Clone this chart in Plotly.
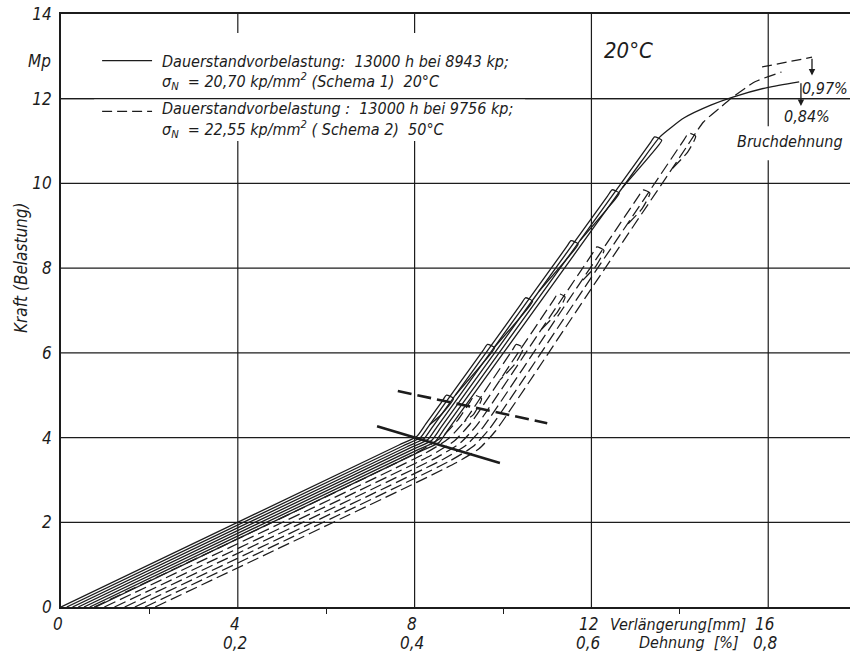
import plotly.graph_objects as go

# ---------------- data (elongation in mm, load in Mp) ----------------
# Schema 1 (solid): each cycle = loading to a tip, then start of unloading
s1_x = [0.0, 7.647, 8.047, 8.254, 8.618, 8.721, 8.881, 8.61, 8.339]
s1_y = [0.0, 3.824, 4.024, 4.324, 4.85, 5.0, 4.92, 4.55, 4.301]
s2_x = [0.13, 7.732, 8.132, 8.339, 8.959, 9.546, 9.649, 9.809, 9.539, 8.921]
s2_y = [0.0, 3.801, 4.001, 4.301, 5.2, 6.05, 6.2, 6.12, 5.75, 5.0]
s3_x = [0.26, 7.816, 8.216, 8.423, 9.473, 10.405, 10.508, 10.668, 10.398, 9.78]
s3_y = [0.0, 3.778, 3.978, 4.278, 5.8, 7.15, 7.3, 7.22, 6.85, 6.1]
s4_x = [0.39, 7.900, 8.300, 8.507, 9.987, 11.436, 11.54, 11.70, 11.429, 10.812]
s4_y = [0.0, 3.755, 3.955, 4.255, 6.4, 8.5, 8.65, 8.57, 8.2, 7.45]
s5_x = [0.52, 7.984, 8.384, 8.591, 10.501, 12.364, 12.468, 12.628, 12.357, 11.74]
s5_y = [0.0, 3.732, 3.932, 4.232, 7.0, 9.7, 9.85, 9.77, 9.4, 8.65]
s6_x = [0.65, 8.068, 8.468, 8.675, 11.015, 13.327, 13.43, 13.59, 13.32, 12.702]
s6_y = [0.0, 3.709, 3.909, 4.209, 7.6, 10.95, 11.1, 11.02, 10.65, 9.9]
s7_x = [0.78, 8.152, 8.552, 8.759, 11.115, 13.116, 13.55, 14.1, 14.7, 15.2, 16.0, 16.7]
s7_y = [0.0, 3.686, 3.886, 4.186, 7.6, 10.5, 11.1, 11.55, 11.85, 12.04, 12.27, 12.4]

# Schema 2 (dashed)
d1_x = [0.75, 8.091, 8.614, 8.981, 9.258, 9.355, 9.515, 9.335, 9.122]
d1_y = [0.0, 3.67, 4.008, 4.42, 4.85, 5.0, 4.92, 4.55, 4.376]
d2_x = [0.98, 8.232, 8.755, 9.122, 9.719, 10.202, 10.299, 10.459, 10.279, 9.921]
d2_y = [0.0, 3.626, 3.964, 4.376, 5.3, 6.05, 6.2, 6.12, 5.75, 5.35]
d3_x = [1.21, 8.374, 8.897, 9.264, 10.276, 11.146, 11.243, 11.403, 11.223, 10.865]
d3_y = [0.0, 3.582, 3.92, 4.332, 5.9, 7.25, 7.4, 7.32, 6.95, 6.55]
d4_x = [1.44, 8.515, 9.038, 9.405, 10.833, 12.026, 12.123, 12.283, 12.102, 11.744]
d4_y = [0.0, 3.538, 3.876, 4.288, 6.5, 8.35, 8.5, 8.42, 8.05, 7.65]
d5_x = [1.67, 8.657, 9.18, 9.547, 11.325, 13.067, 13.163, 13.323, 13.143, 12.785]
d5_y = [0.0, 3.493, 3.831, 4.243, 7.0, 9.7, 9.85, 9.77, 9.4, 9.0]
d6_x = [1.90, 8.798, 9.321, 9.688, 11.818, 14.101, 14.198, 14.358, 14.177, 13.819]
d6_y = [0.0, 3.449, 3.787, 4.199, 7.5, 11.04, 11.19, 11.11, 10.74, 10.34]
d7_x = [2.13, 8.94, 9.463, 9.83, 11.988, 13.987, 14.535, 14.9, 15.2, 15.7, 16.3]
d7_y = [0.0, 3.405, 3.743, 4.155, 7.5, 10.6, 11.45, 11.78, 12.04, 12.4, 12.63]

# marking lines drawn across the knee of the curves
mark_solid_x = [7.15, 9.93]
mark_solid_y = [4.27, 3.40]
mark_dash_x = [7.62, 11.0]
mark_dash_y = [5.10, 4.34]

# ticks
y_ticks = [0, 2, 4, 6, 8, 10, 12, 14]
x_ticks = [0, 4, 8, 12, 16]
x_ticks_mm = ["0", "4", "8", "12", "16"]
x_ticks_pct = ["", "0,2", "0,4", "0,6", "0,8"]
x_minor = [2, 6, 10, 14]

INK = "#1c1c1c"
FONT = "DejaVu Sans Condensed, DejaVu Sans, sans-serif"

solid_curves = [(s1_x, s1_y), (s2_x, s2_y), (s3_x, s3_y), (s4_x, s4_y),
                (s5_x, s5_y), (s6_x, s6_y), (s7_x, s7_y)]
dashed_curves = [(d1_x, d1_y), (d2_x, d2_y), (d3_x, d3_y), (d4_x, d4_y),
                 (d5_x, d5_y), (d6_x, d6_y), (d7_x, d7_y)]

fig = go.Figure()
for xs, ys in solid_curves:
    fig.add_trace(go.Scatter(x=xs, y=ys, mode="lines", showlegend=False, hoverinfo="skip",
                             line=dict(color=INK, width=1.3, shape="spline", smoothing=0.5)))
for xs, ys in dashed_curves:
    fig.add_trace(go.Scatter(x=xs, y=ys, mode="lines", showlegend=False, hoverinfo="skip",
                             line=dict(color=INK, width=1.25, dash="12px,5px", shape="spline", smoothing=0.5)))
fig.add_trace(go.Scatter(x=mark_solid_x, y=mark_solid_y, mode="lines", showlegend=False, hoverinfo="skip",
                         line=dict(color=INK, width=2.6)))
fig.add_trace(go.Scatter(x=mark_dash_x, y=mark_dash_y, mode="lines", showlegend=False, hoverinfo="skip",
                         line=dict(color=INK, width=2.6, dash="14px,6px")))

XMAX = 17.85
fig.update_xaxes(range=[0, XMAX], showgrid=False, zeroline=False, showline=True, mirror=True,
                 linecolor=INK, linewidth=1.8, showticklabels=False,
                 tickvals=x_minor, ticks="outside", ticklen=5, tickcolor=INK, tickwidth=1.2)
fig.update_yaxes(range=[0, 14], showgrid=False, zeroline=False, showline=True,
                 linecolor=INK, linewidth=1.8, tickvals=y_ticks, ticks="",
                 tickfont=dict(family=FONT, size=17, color=INK, style="italic"),
                 ticklabelstandoff=4)

shapes = []
for v in y_ticks[1:-1]:
    shapes.append(dict(type="line", xref="x", yref="y", x0=0, x1=XMAX, y0=v, y1=v,
                       line=dict(color=INK, width=1.2), layer="below"))
for v in x_ticks[1:]:
    shapes.append(dict(type="line", xref="x", yref="y", x0=v, x1=v, y0=0, y1=14,
                       line=dict(color=INK, width=1.2), layer="below"))
# white area behind the legend text (interrupts the vertical grid lines)
shapes.append(dict(type="rect", xref="x", yref="y", x0=0.75, x1=10.5, y0=11.0, y1=13.55,
                   fillcolor="white", line=dict(width=0), layer="between"))
shapes.append(dict(type="line", xref="x", yref="y", x0=0, x1=XMAX, y0=12, y1=12,
                   line=dict(color=INK, width=1.2), layer="between"))
# white area behind "Bruchdehnung"
shapes.append(dict(type="rect", xref="x", yref="y", x0=15.6, x1=17.6, y0=10.55, y1=11.35,
                   fillcolor="white", line=dict(width=0), layer="between"))
# legend line samples
shapes.append(dict(type="line", xref="x", yref="y", x0=0.93, x1=2.06, y0=12.9, y1=12.9,
                   line=dict(color=INK, width=1.4)))
shapes.append(dict(type="line", xref="x", yref="y", x0=0.93, x1=2.06, y0=11.7, y1=11.7,
                   line=dict(color=INK, width=1.4, dash="10px,5px")))
# fracture bracket (dashed)
shapes.append(dict(type="line", xref="x", yref="y", x0=15.86, x1=16.99, y0=12.75, y1=12.98,
                   line=dict(color=INK, width=1.3, dash="10px,5px")))
fig.update_layout(shapes=shapes)

ann = []
tf = dict(family=FONT, color=INK, style="italic")
for v, a, b in zip(x_ticks, x_ticks_mm, x_ticks_pct):
    ann.append(dict(x=v, y=-0.0287, xref="x", yref="paper", text=a, showarrow=False,
                    xanchor="center", yanchor="middle", xshift=-3, font=dict(size=17, **tf)))
    if b:
        ann.append(dict(x=v, y=-0.0607, xref="x", yref="paper", text=b, showarrow=False,
                        xanchor="center", yanchor="middle", xshift=-3, font=dict(size=17, **tf)))
ann.append(dict(x=13.95, y=-0.0287, xref="x", yref="paper", text="Verlängerung[mm]", showarrow=False,
                xanchor="center", yanchor="middle", font=dict(size=16, **tf)))
ann.append(dict(x=14.2, y=-0.0607, xref="x", yref="paper", text="Dehnung  [%]", showarrow=False,
                xanchor="center", yanchor="middle", font=dict(size=16, **tf)))
ann.append(dict(x=-0.0101, y=12.9, xref="paper", yref="y", text="Mp", showarrow=False,
                xanchor="right", yanchor="middle", font=dict(size=17, **tf)))
ann.append(dict(x=-0.0507, y=0.5717, xref="paper", yref="paper", text="Kraft (Belastung)",
                showarrow=False, textangle=-90, xanchor="center", yanchor="middle",
                font=dict(size=17, **tf)))
ann.append(dict(x=2.24, y=12.87, xref="x", yref="y", xanchor="left", yanchor="middle", showarrow=False,
                text="Dauerstandvorbelastung:  13000 h bei 8943 kp;", font=dict(size=16, **tf)))
ann.append(dict(x=2.24, y=12.40, xref="x", yref="y", xanchor="left", yanchor="middle", showarrow=False,
                text="σ<sub>N</sub>  = 20,70 kp/mm<sup>2</sup> (Schema 1)  20°C", font=dict(size=16, **tf)))
ann.append(dict(x=2.24, y=11.78, xref="x", yref="y", xanchor="left", yanchor="middle", showarrow=False,
                text="Dauerstandvorbelastung :  13000 h bei 9756 kp;", font=dict(size=16, **tf)))
ann.append(dict(x=2.24, y=11.28, xref="x", yref="y", xanchor="left", yanchor="middle", showarrow=False,
                text="σ<sub>N</sub>  = 22,55 kp/mm<sup>2</sup> ( Schema 2)  50°C", font=dict(size=16, **tf)))
ann.append(dict(x=12.85, y=13.15, xref="x", yref="y", xanchor="center", yanchor="middle", showarrow=False,
                text="20°C", font=dict(size=22, **tf)))
ann.append(dict(x=17.28, y=12.25, xref="x", yref="y", xanchor="center", yanchor="middle", showarrow=False,
                text="0,97%", font=dict(size=16, **tf)))
ann.append(dict(x=16.88, y=11.57, xref="x", yref="y", xanchor="center", yanchor="middle", showarrow=False,
                text="0,84%", font=dict(size=16, **tf)))
ann.append(dict(x=16.49, y=10.98, xref="x", yref="y", xanchor="center", yanchor="middle", showarrow=False,
                text="Bruchdehnung", font=dict(size=16, **tf)))
ann.append(dict(x=16.74, y=11.83, ax=16.74, ay=12.4, xref="x", yref="y", axref="x", ayref="y",
                text="", showarrow=True, arrowhead=2, arrowsize=1, arrowwidth=1.3, arrowcolor=INK))
ann.append(dict(x=16.99, y=12.55, ax=16.99, ay=12.98, xref="x", yref="y", axref="x", ayref="y",
                text="", showarrow=True, arrowhead=2, arrowsize=1, arrowwidth=1.3, arrowcolor=INK))
fig.update_layout(annotations=ann)

fig.update_layout(width=850, height=659, margin=dict(l=61, r=0, t=14, b=52),
                  paper_bgcolor="white", plot_bgcolor="white", showlegend=False)
fig.write_html("out.html", config={"displayModeBar": False},
               post_script="document.body.style.margin='0px';")
